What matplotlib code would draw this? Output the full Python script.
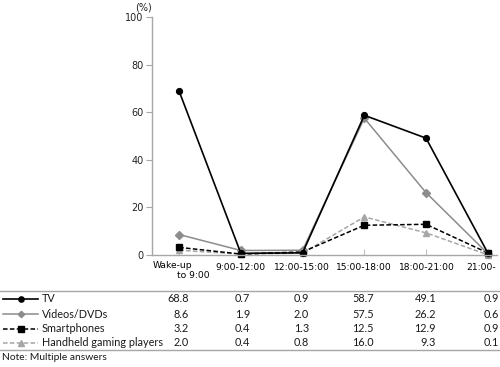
import matplotlib
matplotlib.use("Agg")
import matplotlib.pyplot as plt
from matplotlib.lines import Line2D

# ---------- data ----------
categories = ["Wake-up\nto 9:00", "9:00-12:00", "12:00-15:00", "15:00-18:00", "18:00-21:00", "21:00-"]
tv = [68.8, 0.7, 0.9, 58.7, 49.1, 0.9]
videos = [8.6, 1.9, 2.0, 57.5, 26.2, 0.6]
smartphones = [3.2, 0.4, 1.3, 12.5, 12.9, 0.9]
handheld = [2.0, 0.4, 0.8, 16.0, 9.3, 0.1]
series_names = ["TV", "Videos/DVDs", "Smartphones", "Handheld gaming players"]
yticks = [0, 20, 40, 60, 80, 100]

W, H = 500, 367
fig = plt.figure(figsize=(5, 3.67), dpi=100)
ax = fig.add_axes([152 / W, 1 - 255 / H, (497 - 152) / W, (255 - 17) / H])

x = list(range(len(categories)))
styles = [
    dict(color="black", ls="-", marker="o", ms=4.2, lw=1.2, mfc="black", mec="black"),
    dict(color="#8c8c8c", ls="-", marker="D", ms=3.6, lw=1.1, mfc="#8c8c8c", mec="#8c8c8c"),
    dict(color="black", ls=(0, (3, 1.5)), marker="s", ms=4.2, lw=1.1, mfc="black", mec="black"),
    dict(color="#a6a6a6", ls=(0, (3, 1.5)), marker="^", ms=4.2, lw=1.1, mfc="#a6a6a6", mec="#a6a6a6"),
]
data = [tv, videos, smartphones, handheld]
# draw lighter series first so TV sits on top
for vals, st in reversed(list(zip(data, styles))):
    ax.plot(x, vals, **st, clip_on=False)

ax.set_xlim(-0.44, 5.15)
ax.set_ylim(0, 100)
ax.set_yticks(yticks)
ax.set_xticks(x)
ax.set_xticklabels([])
for sp in ["top", "right"]:
    ax.spines[sp].set_visible(False)
for sp in ["left", "bottom"]:
    ax.spines[sp].set_color("#a6a6a6")
    ax.spines[sp].set_linewidth(1)
ax.tick_params(axis="y", direction="out", length=4, color="#a6a6a6", labelsize=7, pad=2, labelcolor="#222222")
ax.tick_params(axis="x", direction="in", length=4, color="#c0c0c0")
fig.text(143 / W, 1 - 7 / H, "(%)", fontsize=7, ha="center", va="center", color="#222222")

# category labels below axis
fs = 6.6
label_cx = [None, 240, 302, 364, 427, 481]
for i, lab in enumerate(categories):
    if i == 0:
        first, second = lab.split("\n")
        fig.text(153 / W, 1 - 265 / H, first, fontsize=fs, ha="left", va="center")
        fig.text(177 / W, 1 - 276 / H, second, fontsize=fs, ha="left", va="center")
    else:
        fig.text(label_cx[i] / W, 1 - 268 / H, lab, fontsize=fs, ha="center", va="center")

# ---------- table ----------
tfont = "Lato"
tsize = 7.8
line_color = "#a6a6a6"
fig.add_artist(Line2D([0, 1], [1 - 291 / H] * 2, color=line_color, lw=1))
fig.add_artist(Line2D([0, 1], [1 - 350 / H] * 2, color=line_color, lw=1))
row_y = [299, 314, 329, 343]
col_right = [189, 250, 309, 374, 436, 499]
for r, (name, vals, st) in enumerate(zip(series_names, data, styles)):
    yy = 1 - row_y[r] / H
    fig.add_artist(Line2D([3 / W, 38 / W], [yy, yy], color=st["color"], ls=st["ls"], lw=st["lw"]))
    fig.add_artist(Line2D([20.5 / W], [yy], marker=st["marker"], ms=st["ms"] * 0.9, mfc=st["mfc"],
                          mec=st["mec"], ls="none"))
    fig.text(42 / W, yy, name, fontsize=tsize, family=tfont, ha="left", va="center", color="#1a1a1a")
    for c, v in enumerate(vals):
        fig.text(col_right[c] / W, yy, f"{v:.1f}", fontsize=tsize, family=tfont, ha="right", va="center",
                 color="#1a1a1a")

fig.text(2 / W, 1 - 358 / H, "Note: Multiple answers", fontsize=7.4, family=tfont, ha="left", va="center",
         color="#1a1a1a")

fig.savefig("out.png", dpi=100)
